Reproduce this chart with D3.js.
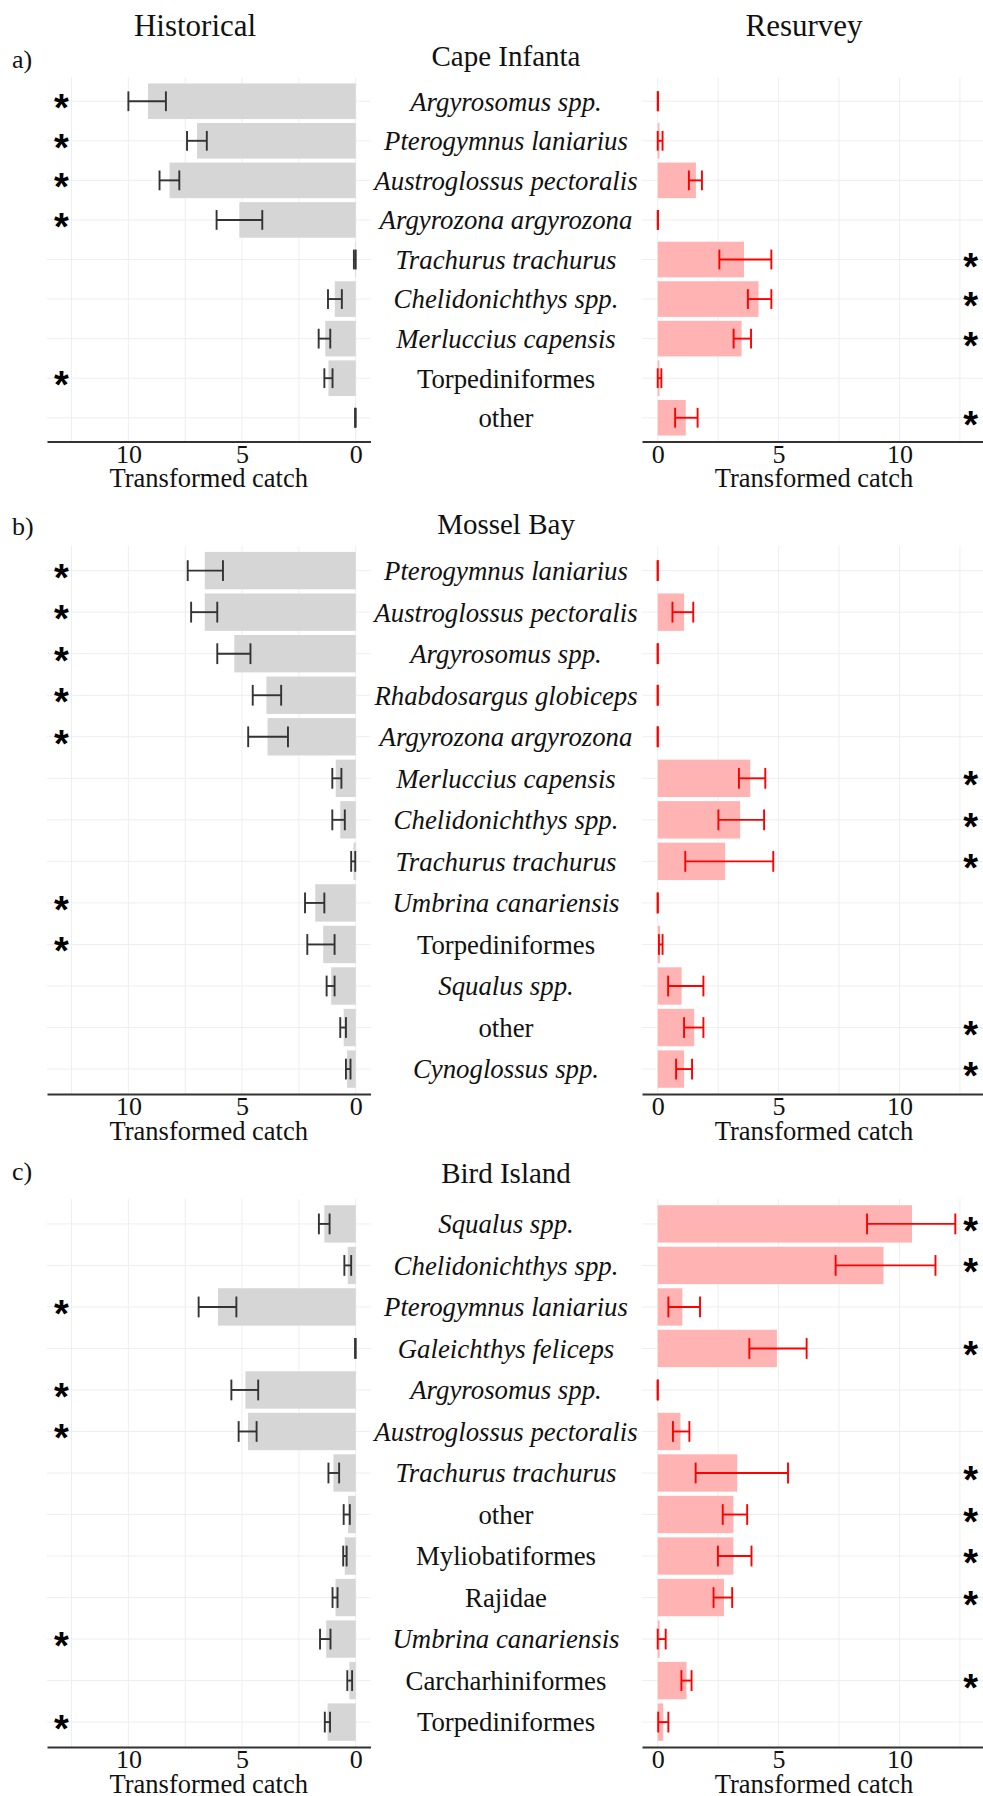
<!DOCTYPE html>
<html>
<head>
<meta charset="utf-8">
<script src="https://cdn.jsdelivr.net/npm/d3@7"></script>
<style>
  body { margin: 0; background: #fff; }
  text { font-family: "Liberation Serif", serif; fill: #111; }
</style>
</head>
<body>
<svg id="chart" width="983" height="1796"></svg>
<script>
// ---- data: a) Cape Infanta
const capeSpecies = ["Argyrosomus spp.", "Pterogymnus laniarius", "Austroglossus pectoralis", "Argyrozona argyrozona",
  "Trachurus trachurus", "Chelidonichthys spp.", "Merluccius capensis", "Torpediniformes", "other"];
const capeHist = [9.14, 6.98, 8.19, 5.12, 0.03, 0.92, 1.34, 1.2, 0.01];
const capeHistLo = [8.35, 6.55, 7.76, 4.11, 0, 0.61, 1.12, 1.02, 0];
const capeHistHi = [10.0, 7.42, 8.63, 6.12, 0.08, 1.22, 1.63, 1.38, 0.03];
const capeRes = [0, 0.07, 1.58, 0, 3.57, 4.17, 3.47, 0.07, 1.16];
const capeResLo = [0, 0, 1.29, 0, 2.55, 3.73, 3.14, 0, 0.72];
const capeResHi = [0.01, 0.2, 1.83, 0.01, 4.7, 4.7, 3.86, 0.15, 1.65];
const capeHistStar = [1, 1, 1, 1, 0, 0, 0, 1, 0];
const capeResStar = [0, 0, 0, 0, 1, 1, 1, 0, 1];

// ---- data: b) Mossel Bay
const mosselSpecies = ["Pterogymnus laniarius", "Austroglossus pectoralis", "Argyrosomus spp.", "Rhabdosargus globiceps",
  "Argyrozona argyrozona", "Merluccius capensis", "Chelidonichthys spp.", "Trachurus trachurus",
  "Umbrina canariensis", "Torpediniformes", "Squalus spp.", "other", "Cynoglossus spp."];
const mosselHist = [6.64, 6.64, 5.34, 3.93, 3.88, 0.88, 0.68, 0.1, 1.78, 1.43, 1.08, 0.53, 0.38];
const mosselHistLo = [5.84, 6.09, 4.63, 3.28, 2.98, 0.63, 0.48, 0.02, 1.38, 0.93, 0.93, 0.43, 0.23];
const mosselHistHi = [7.39, 7.24, 6.09, 4.53, 4.73, 1.03, 1.03, 0.2, 2.23, 2.13, 1.28, 0.68, 0.43];
const mosselRes = [0, 1.09, 0, 0, 0, 3.83, 3.41, 2.79, 0, 0.1, 0.99, 1.51, 1.09];
const mosselResLo = [0, 0.61, 0, 0, 0, 3.36, 2.51, 1.14, 0, 0.05, 0.43, 1.09, 0.76];
const mosselResHi = [0, 1.47, 0, 0, 0, 4.45, 4.4, 4.78, 0, 0.2, 1.89, 1.89, 1.42];
const mosselHistStar = [1, 1, 1, 1, 1, 0, 0, 0, 1, 1, 0, 0, 0];
const mosselResStar = [0, 0, 0, 0, 0, 1, 1, 1, 0, 0, 0, 1, 1];

// ---- data: c) Bird Island
const birdSpecies = ["Squalus spp.", "Chelidonichthys spp.", "Pterogymnus laniarius", "Galeichthys feliceps",
  "Argyrosomus spp.", "Austroglossus pectoralis", "Trachurus trachurus", "other", "Myliobatiformes",
  "Rajidae", "Umbrina canariensis", "Carcharhiniformes", "Torpediniformes"];
const birdHist = [1.38, 0.35, 6.06, 0, 4.85, 4.74, 0.98, 0.34, 0.48, 0.89, 1.3, 0.28, 1.24];
const birdHistLo = [1.15, 0.2, 5.25, 0, 4.29, 4.36, 0.73, 0.26, 0.4, 0.8, 1.11, 0.16, 1.13];
const birdHistHi = [1.62, 0.5, 6.91, 0.03, 5.47, 5.15, 1.2, 0.53, 0.55, 1.02, 1.57, 0.37, 1.36];
const birdRes = [10.52, 9.34, 1.02, 4.93, 0, 0.94, 3.29, 3.13, 3.13, 2.74, 0.08, 1.19, 0.23];
const birdResLo = [8.66, 7.36, 0.44, 3.79, 0, 0.63, 1.57, 2.69, 2.49, 2.31, 0, 0.98, 0.02];
const birdResHi = [12.31, 11.49, 1.75, 6.16, 0, 1.31, 5.39, 3.7, 3.88, 3.08, 0.33, 1.4, 0.44];
const birdHistStar = [0, 0, 1, 0, 1, 1, 0, 0, 0, 0, 1, 0, 1];
const birdResStar = [1, 1, 0, 1, 0, 0, 1, 1, 1, 1, 0, 1, 0];

const siteTitles = ["Cape Infanta", "Mossel Bay", "Bird Island"];
const panelLetters = ["a)", "b)", "c)"];
const xTicks = [0, 5, 10];
const xGrid = [0, 2.5, 5, 7.5, 10, 12.5];
const xDomain = [-0.65, 13.58];
const starValue = 12.95;
// higher taxa are not written in italics
const uprightNames = ["other", "Torpediniformes", "Myliobatiformes", "Rajidae", "Carcharhiniformes"];

const panels = [
  { species: capeSpecies, hist: capeHist, histLo: capeHistLo, histHi: capeHistHi,
    res: capeRes, resLo: capeResLo, resHi: capeResHi, histStar: capeHistStar, resStar: capeResStar },
  { species: mosselSpecies, hist: mosselHist, histLo: mosselHistLo, histHi: mosselHistHi,
    res: mosselRes, resLo: mosselResLo, resHi: mosselResHi, histStar: mosselHistStar, resStar: mosselResStar },
  { species: birdSpecies, hist: birdHist, histLo: birdHistLo, histHi: birdHistHi,
    res: birdRes, resLo: birdResLo, resHi: birdResHi, histStar: birdHistStar, resStar: birdResStar }
];

// layout
const panelTop = [77.5, 545.7, 1199];
const panelBottom = [441.5, 1094, 1747];
const titleBaseline = [66, 534, 1183];
const letterBaseline = [68, 535, 1180];
const labelX = 506;

const svg = d3.select("#chart");

const xLeft = d3.scaleLinear().domain([xDomain[1], xDomain[0]]).range([47, 370.5]);
const xRight = d3.scaleLinear().domain(xDomain).range([642, 986]);

svg.append("text").text("Historical")
  .attr("x", 195).attr("y", 36)
  .attr("text-anchor", "middle").style("font-size", "31px");
svg.append("text").text("Resurvey")
  .attr("x", 804).attr("y", 36)
  .attr("text-anchor", "middle").style("font-size", "31px");

function drawSide(g, p, x, y, step, key, fill, errColor) {
  const vals = p[key];
  const lo = p[key + "Lo"];
  const hi = p[key + "Hi"];
  const star = p[key + "Star"];
  const [r0, r1] = x.range();

  // grid
  g.selectAll(".vgrid." + key)
    .data(xGrid)
    .enter()
    .append("line")
    .attr("x1", (d) => x(d)).attr("x2", (d) => x(d))
    .attr("y1", y.range()[0]).attr("y2", y.range()[1])
    .attr("stroke", "#eeeeee").attr("stroke-width", 1);
  g.selectAll(".hgrid." + key)
    .data(p.species)
    .enter()
    .append("line")
    .attr("x1", r0).attr("x2", r1)
    .attr("y1", (d) => y(d)).attr("y2", (d) => y(d))
    .attr("stroke", "#eeeeee").attr("stroke-width", 1);

  // bars
  g.selectAll(".bar." + key)
    .data(p.species)
    .enter()
    .append("rect")
    .attr("x", (d, i) => Math.min(x(0), x(vals[i])))
    .attr("width", (d, i) => Math.abs(x(vals[i]) - x(0)))
    .attr("y", (d) => y(d) - step * 0.45)
    .attr("height", step * 0.9)
    .attr("fill", fill);

  // error bars
  const eb = g.selectAll(".err." + key)
    .data(p.species)
    .enter()
    .append("g")
    .attr("stroke", errColor)
    .attr("stroke-width", 1.9);
  eb.append("line")
    .attr("x1", (d, i) => x(lo[i])).attr("x2", (d, i) => x(hi[i]))
    .attr("y1", (d) => y(d)).attr("y2", (d) => y(d));
  eb.append("line")
    .attr("x1", (d, i) => x(lo[i])).attr("x2", (d, i) => x(lo[i]))
    .attr("y1", (d) => y(d) - step * 0.25).attr("y2", (d) => y(d) + step * 0.25);
  eb.append("line")
    .attr("x1", (d, i) => x(hi[i])).attr("x2", (d, i) => x(hi[i]))
    .attr("y1", (d) => y(d) - step * 0.25).attr("y2", (d) => y(d) + step * 0.25);

  // significance stars
  g.selectAll(".star." + key)
    .data(p.species.filter((d, i) => star[i]))
    .enter()
    .append("text")
    .text("*")
    .attr("x", x(starValue))
    .attr("y", (d) => y(d) + 20)
    .attr("text-anchor", "middle")
    .style("font-family", "'Liberation Sans', sans-serif")
    .style("font-weight", "bold")
    .style("font-size", "38px")
    .style("fill", "#000");

  // x axis
  const axis = g.append("g")
    .attr("transform", `translate(0,${y.range()[1]})`)
    .call(d3.axisBottom(x).tickValues(xTicks).tickSize(0).tickPadding(3));
  axis.select(".domain").attr("stroke", "#333").attr("stroke-width", 1.8);
  axis.selectAll("text")
    .style("font-family", "'Liberation Serif', serif")
    .style("font-size", "26px")
    .style("fill", "#111");
  g.append("text")
    .text("Transformed catch")
    .attr("x", (r0 + r1) / 2)
    .attr("y", y.range()[1] + 45.5)
    .attr("text-anchor", "middle")
    .style("font-size", "26.5px");
}

panels.forEach((p, k) => {
  const y = d3.scalePoint()
    .domain(p.species)
    .range([panelTop[k], panelBottom[k]])
    .padding(0.6);
  const step = y.step();
  const g = svg.append("g");

  g.append("text").text(panelLetters[k])
    .attr("x", 12).attr("y", letterBaseline[k])
    .style("font-size", "26px");
  g.append("text").text(siteTitles[k])
    .attr("x", labelX).attr("y", titleBaseline[k])
    .attr("text-anchor", "middle")
    .style("font-size", "29px");

  drawSide(g, p, xLeft, y, step, "hist", "#d6d6d6", "#333333");
  drawSide(g, p, xRight, y, step, "res", "#ffb3b3", "#ff0000");

  g.selectAll(".label")
    .data(p.species)
    .enter()
    .append("text")
    .text((d) => d)
    .attr("x", labelX)
    .attr("y", (d) => y(d))
    .attr("dy", "0.35em")
    .attr("text-anchor", "middle")
    .style("font-size", "26.8px")
    .style("font-style", (d) => (uprightNames.includes(d) ? "normal" : "italic"));
});
</script>
</body>
</html>
